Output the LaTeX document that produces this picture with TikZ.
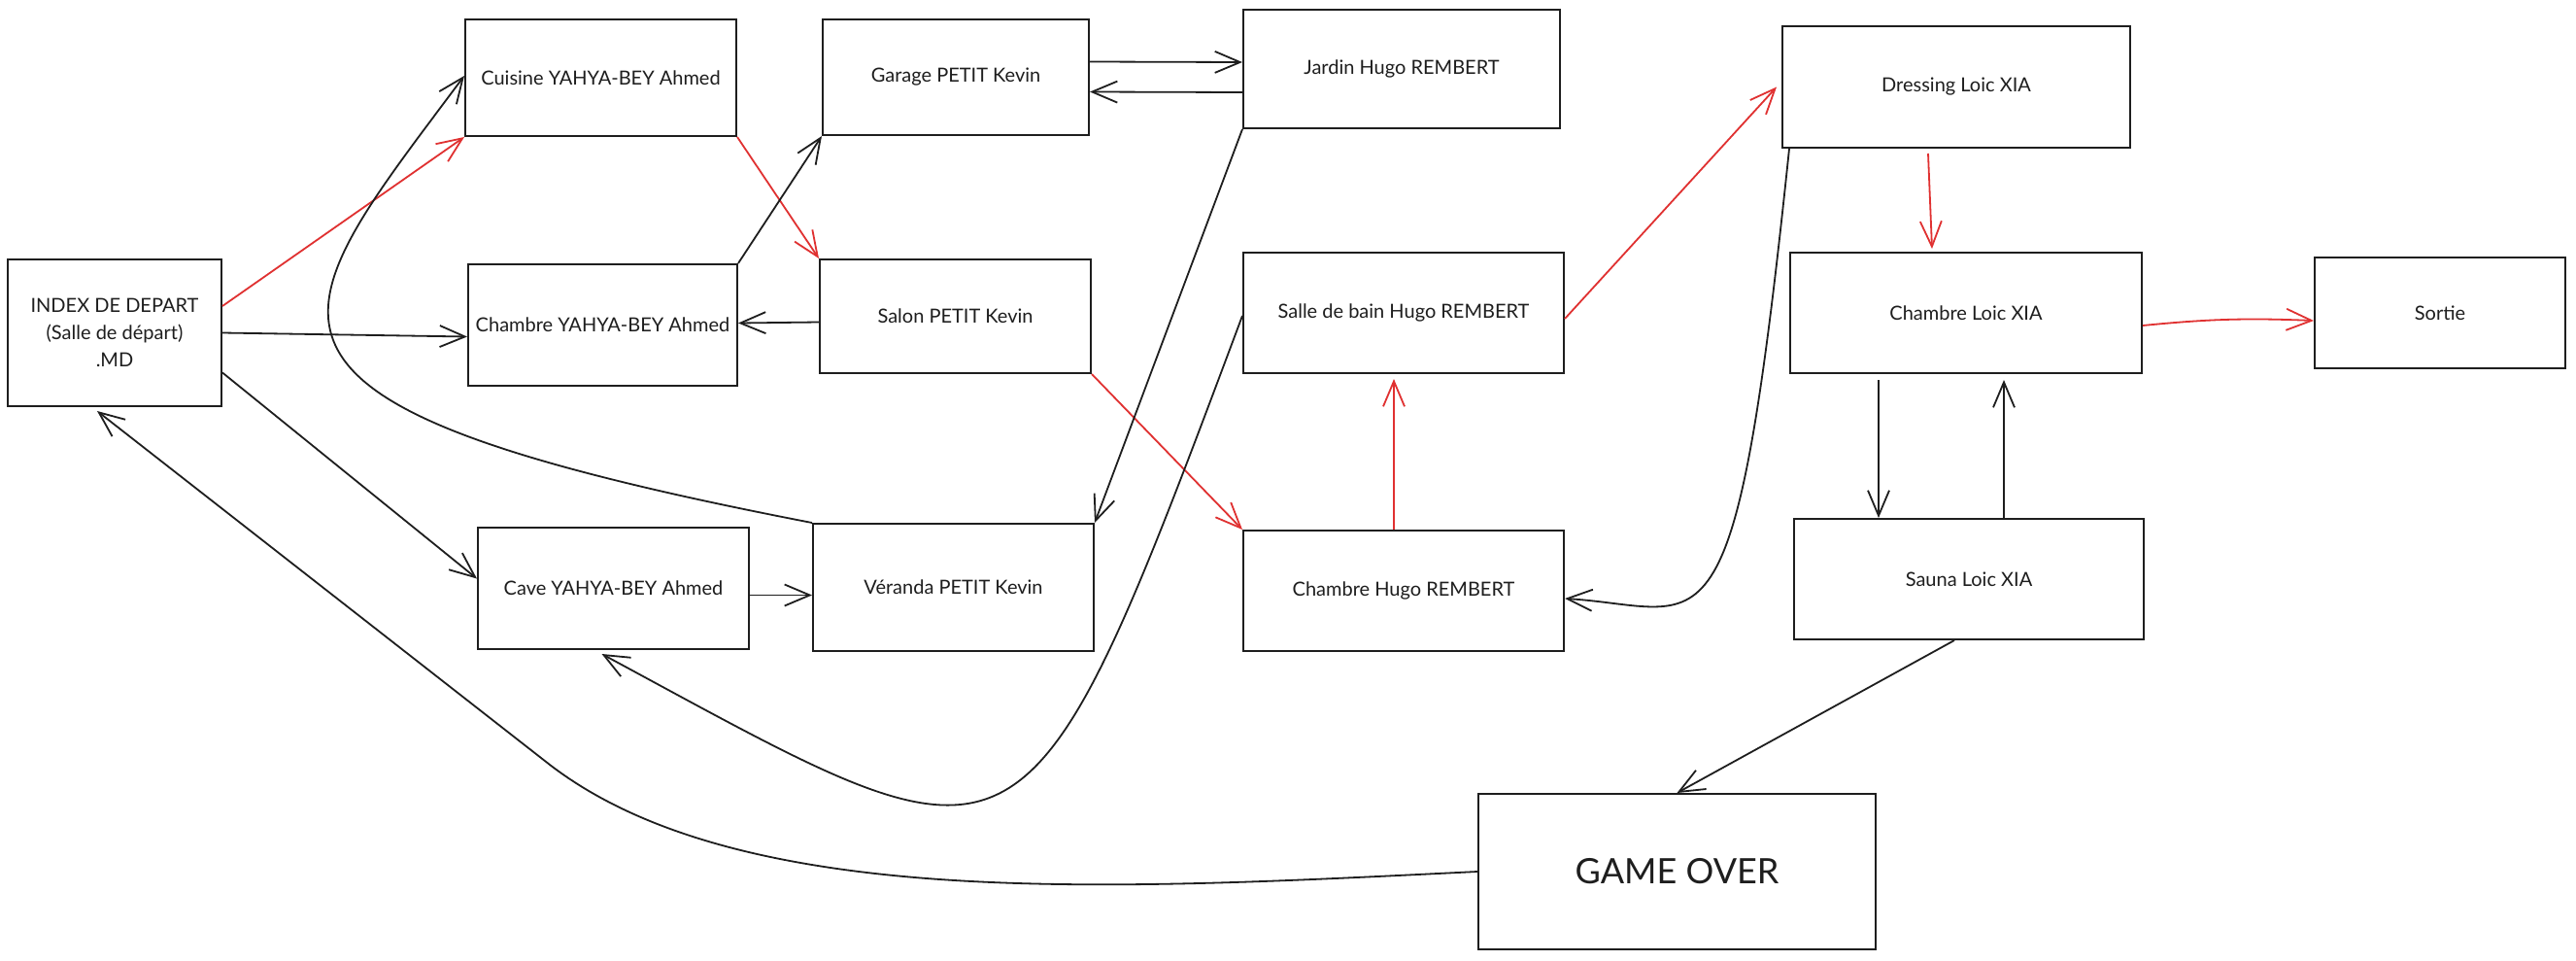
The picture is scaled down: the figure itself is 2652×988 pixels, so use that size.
\documentclass[tikz,border=0pt]{standalone}
\usepackage{fontspec}
\setmainfont{Lato}
\usetikzlibrary{arrows.meta}
\definecolor{xred}{RGB}{224,49,49}
\definecolor{ink}{RGB}{30,30,30}
\begin{document}
\begin{tikzpicture}[x=1pt,y=-1pt,
  room/.style={draw=ink, line width=2pt, rectangle, align=center, inner sep=0pt,
    text=ink, font=\fontsize{20pt}{28pt}\selectfont},
  link/.style={-{Straight Barb[length=26pt,width=22pt]}, line width=1.8pt, draw=ink},
  redlink/.style={link, draw=xred}]
\useasboundingbox[fill=white] (0,0) rectangle (2652,988);

\node[room, minimum width=220pt, minimum height=151pt] (idx) at (118,342.5) {INDEX DE DEPART\\(Salle de départ)\\.MD};
\node[room, minimum width=279pt, minimum height=120pt] (cui) at (618.5,80) {Cuisine YAHYA-BEY Ahmed};
\node[room, minimum width=274pt, minimum height=119pt] (gar) at (984,79.5) {Garage PETIT Kevin};
\node[room, minimum width=326pt, minimum height=122pt] (jar) at (1443,71) {Jardin Hugo REMBERT};
\node[room, minimum width=277pt, minimum height=125pt] (chy) at (620.5,334.5) {Chambre YAHYA-BEY Ahmed};
\node[room, minimum width=279pt, minimum height=117pt] (sal) at (983.5,325.5) {Salon PETIT Kevin};
\node[room, minimum width=330pt, minimum height=124pt] (sdb) at (1445,322) {Salle de bain Hugo REMBERT};
\node[room, minimum width=358pt, minimum height=125pt] (dre) at (2014,89.5) {Dressing Loic XIA};
\node[room, minimum width=362pt, minimum height=124pt] (chl) at (2024,322) {Chambre Loic XIA};
\node[room, minimum width=258pt, minimum height=114pt] (sor) at (2512,322) {Sortie};
\node[room, minimum width=279pt, minimum height=125pt] (cave) at (631.5,605.5) {Cave YAHYA-BEY Ahmed};
\node[room, minimum width=289pt, minimum height=131pt] (ver) at (981.5,604.5) {Véranda PETIT Kevin};
\node[room, minimum width=330pt, minimum height=124pt] (chh) at (1445,608) {Chambre Hugo REMBERT};
\node[room, minimum width=360pt, minimum height=124pt] (sau) at (2027,596) {Sauna Loic XIA};
\node[room, minimum width=409pt, minimum height=160pt, font=\fontsize{36pt}{40pt}\selectfont] (go) at (1726.5,897) {GAME OVER};

% red path
\draw[redlink] ([yshift=27.5pt]idx.east) -- (cui.south west);
\draw[redlink] (cui.south east) -- (sal.north west);
\draw[redlink] (sal.south east) -- (chh.north west);
\draw[redlink] ([xshift=-10pt]chh.north) -- ([xshift=-10pt,yshift=-5pt]sdb.south);
\draw[redlink] ([yshift=-6pt]sdb.east) -- ([xshift=-5pt]dre.west);
\draw[redlink] ([xshift=-29pt,yshift=-5pt]dre.south) -- ([xshift=-35pt,yshift=3pt]chl.north);
\draw[redlink] ([yshift=-13pt]chl.east) to[bend left=4] ([yshift=-8pt]sor.west);

% black links
\draw[link] (idx.east) -- ([yshift=-12pt]chy.west);
\draw[link] ([yshift=-41pt]idx.east) -- ([yshift=10pt]cave.west);
\draw[link] (chy.north east) -- (gar.south west);
\draw[link] ([yshift=-6pt]sal.west) -- ([yshift=2pt]chy.east);
\draw[link] ([yshift=16pt]gar.east) -- ([yshift=7pt]jar.west);
\draw[link] ([yshift=-24pt]jar.west) -- ([yshift=-15pt]gar.east);
\draw[link] (jar.south west) -- (ver.north east);
\draw[link] (ver.north west) .. controls (200,415) and (287,334) .. ([yshift=2pt]cui.west);
\draw[link] ([yshift=-7pt]cave.east) -- ([yshift=-8pt]ver.west);
\draw[link] ([yshift=-3pt]sdb.west) .. controls (1051,934) and (1059,910) .. ([xshift=-12pt,yshift=-4pt]cave.south);
\draw[link] ([xshift=8pt]dre.south west) .. controls (1785,700) and (1760,625) .. ([yshift=-8pt]chh.east);
\draw[link] ([xshift=-90pt,yshift=-6pt]chl.south) -- ([xshift=-93pt]sau.north);
\draw[link] ([xshift=36pt]sau.north) -- ([xshift=39pt,yshift=-6pt]chl.south);
\draw[link] ([xshift=-15pt]sau.south) -- (go.north);
\coordinate (bend) at (566,787);
\draw[link] (go.west) .. controls (1150,915) and (764,939) .. (bend) -- ([xshift=-18pt,yshift=-4pt]idx.south);
\end{tikzpicture}
\end{document}
